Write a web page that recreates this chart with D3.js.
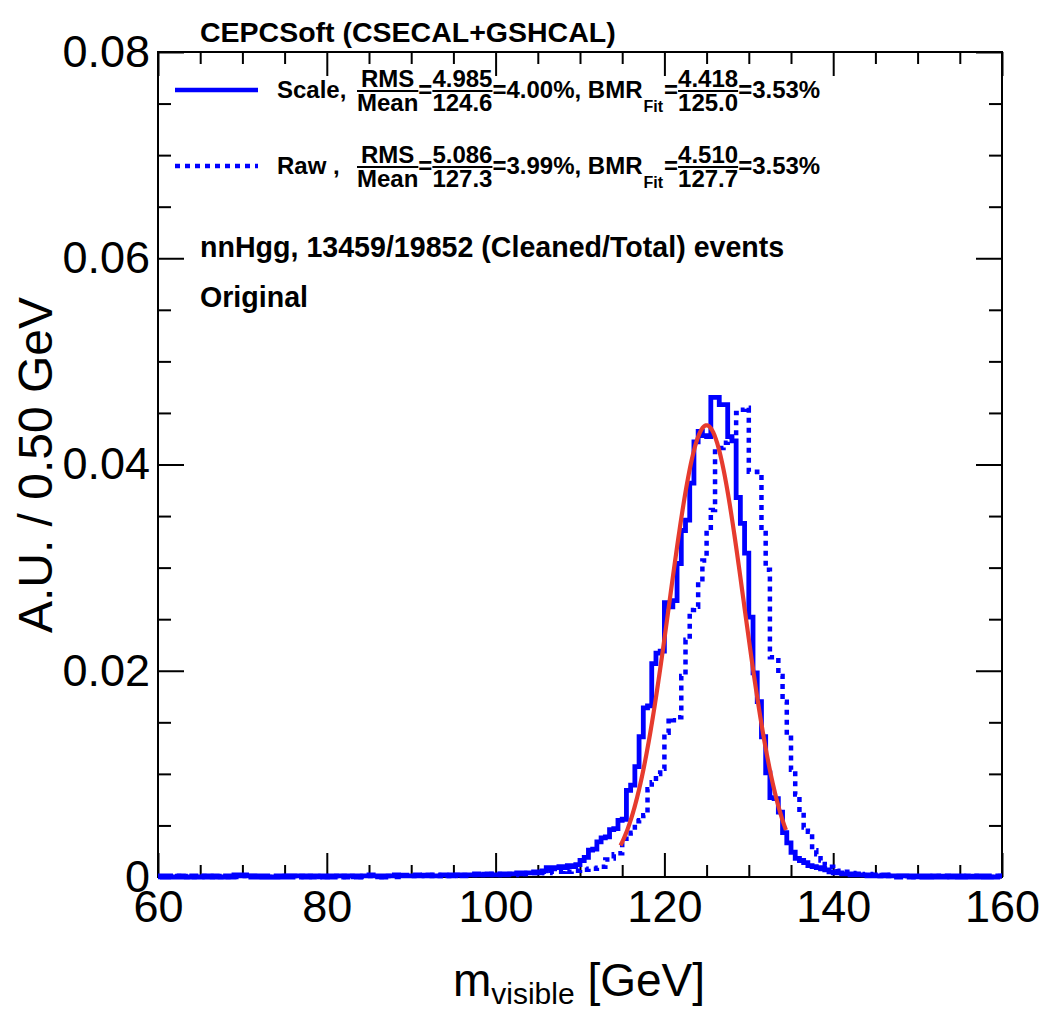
<!DOCTYPE html>
<html>
<head>
<meta charset="utf-8">
<script src="https://cdn.jsdelivr.net/npm/d3@7"></script>
<style>
  html, body { margin: 0; padding: 0; background: #ffffff; }
  svg { display: block; }
</style>
</head>
<body>
<svg id="chart" width="1047" height="1011"></svg>
<script>
// ---- histogram binning: 200 bins of 0.5 GeV from 60 to 160 GeV ----
const binLow = 60;
const binWidth = 0.5;

// "Scale" calibrated visible mass, A.U. per 0.5 GeV bin
const scaleValues = [
  // 60-70
  0.0001,0,0.0001,0,0,0.0001,0,0,0.0001,0, 0,0.0001,0,0.0001,0,0,0.0001,0,0.0002,0.0001,
  // 70-80
  0.0002,0.0001,0,0.0001,0,0.0001,0,0,0.0001,0, 0.0001,0,0.0001,0.0001,0,0.0001,0,0.0001,0.0001,0,
  // 80-90
  0.0001,0,0.0001,0.0001,0,0.0001,0.0001,0,0.0001,0.0001, 0.0002,0.0001,0.0001,0,0.0001,0.0001,0.0002,0.0001,0.0001,0.0001,
  // 90-100
  0.0001,0.0002,0.0001,0.0001,0.0002,0.0001,0.0001,0.0002,0.0002,0.0001, 0.0002,0.0002,0.0001,0.0002,0.0002,0.0003,0.0002,0.0002,0.0003,0.0002,
  // 100-110
  0.0002,0.0003,0.0002,0.0003,0.0003,0.0004,0.0003,0.0004,0.0004,0.0005, 0.0004,0.0006,0.0009,0.0008,0.0009,0.0010,0.0009,0.0011,0.0010,0.0012,
  // 110-120
  0.0016,0.0019,0.0026,0.0027,0.0034,0.0038,0.0039,0.0046,0.0047,0.0055, 0.0056,0.0084,0.0089,0.0107,0.0136,0.0164,0.0166,0.0207,0.0217,0.0219,
  // 120-130
  0.0266,0.0262,0.0268,0.0304,0.0336,0.0346,0.0382,0.0422,0.0432,0.0428, 0.0427,0.0465,0.0465,0.0458,0.0458,0.0427,0.0423,0.0368,0.0343,0.0314,
  // 130-140
  0.0252,0.0198,0.0170,0.0136,0.0101,0.0077,0.0076,0.0063,0.0043,0.0033, 0.0024,0.0018,0.0016,0.0014,0.0011,0.0010,0.0009,0.0008,0.0007,0.0005,
  // 140-150
  0.0004,0.0004,0.0003,0.0003,0.0002,0.0003,0.0002,0.0002,0.0001,0.0002, 0.0001,0.0001,0.0002,0.0001,0.0001,0,0.0001,0.0001,0,0.0001,
  // 150-160
  0.0001,0,0.0001,0,0.0001,0,0,0.0001,0,0.0001, 0,0.0001,0,0,0.0001,0,0.0001,0,0,0.0001
];

// "Raw" visible mass, A.U. per 0.5 GeV bin
const rawValues = [
  // 60-70
  0,0.0001,0,0,0.0001,0,0,0.0001,0,0, 0.0001,0,0,0.0001,0,0.0001,0,0,0.0001,0,
  // 70-80
  0.0001,0,0.0001,0,0,0.0001,0,0.0001,0,0, 0.0001,0,0.0001,0,0.0001,0,0.0001,0.0001,0,0.0001,
  // 80-90
  0,0.0001,0.0001,0,0.0001,0,0.0001,0.0001,0,0.0001, 0.0001,0.0001,0,0.0001,0.0001,0.0001,0,0.0001,0.0002,0.0001,
  // 90-100
  0.0001,0.0001,0.0002,0.0001,0.0001,0.0002,0.0001,0.0002,0.0001,0.0002, 0.0002,0.0001,0.0002,0.0002,0.0002,0.0002,0.0003,0.0002,0.0002,0.0003,
  // 100-110
  0.0002,0.0003,0.0003,0.0003,0.0002,0.0003,0.0004,0.0003,0.0004,0.0004, 0.0004,0.0005,0.0004,0.0005,0.0005,0.0005,0.0006,0.0005,0.0006,0.0006,
  // 110-120
  0.0007,0.0007,0.0008,0.0008,0.0009,0.0010,0.0017,0.0018,0.0022,0.0023, 0.0037,0.0040,0.0043,0.0054,0.0055,0.0060,0.0085,0.0092,0.0100,0.0105,
  // 120-130
  0.0140,0.0154,0.0152,0.0155,0.0195,0.0230,0.0259,0.0262,0.0286,0.0307, 0.0336,0.0356,0.0416,0.0416,0.0421,0.0424,0.0428,0.0450,0.0453,0.0455,
  // 130-140
  0.0393,0.0393,0.0390,0.0336,0.0298,0.0213,0.0213,0.0195,0.0170,0.0135, 0.0104,0.0080,0.0063,0.0048,0.0044,0.0026,0.0022,0.0016,0.0012,0.0010,
  // 140-150
  0.0008,0.0006,0.0005,0.0005,0.0004,0.0003,0.0003,0.0002,0.0003,0.0002, 0.0002,0.0001,0.0002,0.0001,0.0001,0.0001,0,0.0001,0.0001,0,
  // 150-160
  0.0001,0,0.0001,0,0,0.0001,0,0.0001,0,0, 0.0001,0,0,0.0001,0,0,0.0001,0,0,0.0001
];

// axis ticks and labels
const xMajorTicks = [60, 80, 100, 120, 140, 160];
const xMinorStep = 5;
const yMajorTicks = [0, 0.02, 0.04, 0.06, 0.08];
const yTickLabels = ["0", "0.02", "0.04", "0.06", "0.08"];
const yMinorStep = 0.005;

// legend entries
const legendLabels = ["Scale,", "Raw ,"];
const rmsValues = ["4.985", "5.086"];
const meanValues = ["124.6", "127.3"];
const rmsRatios = ["4.00%", "3.99%"];
const fitSigmaLabels = ["4.418", "4.510"];
const fitMeanLabels = ["125.0", "127.7"];
const bmrRatios = ["3.53%", "3.53%"];

// gaussian fit drawn on the "Scale" histogram
const fitMean = 125.0;
const fitSigma = 4.418;
const fitConstant = 0.0438;
const fitRange = [114.8, 134.4];

// ---- drawing ----
const W = 1047, H = 1011;
const plot = { left: 158, right: 1002, top: 52, bottom: 877 };
const FONT = "'Liberation Sans', Arial, Helvetica, sans-serif";
const BLUE = "#0000ff";
const RED = "#e63b2e";

const svg = d3.select("#chart");
svg.append("rect").attr("width", W).attr("height", H).attr("fill", "#ffffff");

const x = d3.scaleLinear().domain([60, 160]).range([plot.left, plot.right]);
const y = d3.scaleLinear().domain([0, 0.08]).range([plot.bottom, plot.top]);

const xMinor = d3.range(60, 160.001, xMinorStep).filter(v => !xMajorTicks.includes(v));
const yMinor = d3.range(0, 0.08001, yMinorStep).map(v => +v.toFixed(4))
  .filter(v => !yMajorTicks.some(t => Math.abs(t - v) < 1e-6));

function styleAxis(g) {
  g.select(".domain").remove();
  g.selectAll(".tick line").attr("stroke", "#000").attr("stroke-width", 2);
  g.selectAll(".tick text").attr("fill", "#000").attr("font-family", FONT).attr("font-size", 45);
}

// bottom axis
svg.append("g").attr("transform", `translate(0,${plot.bottom})`)
  .call(d3.axisBottom(x).tickValues(xMajorTicks).tickSizeInner(-24).tickSizeOuter(0)
    .tickPadding(13).tickFormat(d3.format("d")))
  .call(styleAxis);
svg.append("g").attr("transform", `translate(0,${plot.bottom})`)
  .call(d3.axisBottom(x).tickValues(xMinor).tickSizeInner(-12).tickSizeOuter(0).tickFormat(""))
  .call(styleAxis);
// top axis
svg.append("g").attr("transform", `translate(0,${plot.top})`)
  .call(d3.axisTop(x).tickValues(xMajorTicks).tickSizeInner(-24).tickSizeOuter(0).tickFormat(""))
  .call(styleAxis);
svg.append("g").attr("transform", `translate(0,${plot.top})`)
  .call(d3.axisTop(x).tickValues(xMinor).tickSizeInner(-12).tickSizeOuter(0).tickFormat(""))
  .call(styleAxis);
// left axis
svg.append("g").attr("transform", `translate(${plot.left},0)`)
  .call(d3.axisLeft(y).tickValues(yMajorTicks).tickSizeInner(-26).tickSizeOuter(0)
    .tickPadding(8).tickFormat((d, i) => yTickLabels[i]))
  .call(styleAxis);
svg.append("g").attr("transform", `translate(${plot.left},0)`)
  .call(d3.axisLeft(y).tickValues(yMinor).tickSizeInner(-13).tickSizeOuter(0).tickFormat(""))
  .call(styleAxis);
// right axis
svg.append("g").attr("transform", `translate(${plot.right},0)`)
  .call(d3.axisRight(y).tickValues(yMajorTicks).tickSizeInner(-26).tickSizeOuter(0).tickFormat(""))
  .call(styleAxis);
svg.append("g").attr("transform", `translate(${plot.right},0)`)
  .call(d3.axisRight(y).tickValues(yMinor).tickSizeInner(-13).tickSizeOuter(0).tickFormat(""))
  .call(styleAxis);

// frame
svg.append("rect")
  .attr("x", plot.left).attr("y", plot.top)
  .attr("width", plot.right - plot.left).attr("height", plot.bottom - plot.top)
  .attr("fill", "none").attr("stroke", "#000").attr("stroke-width", 2);

// step outline of a histogram
function histPoints(values) {
  const pts = values.map((v, i) => [binLow + i * binWidth, v]);
  pts.push([binLow + values.length * binWidth, values[values.length - 1]]);
  return pts;
}
const stepLine = d3.line().x(d => x(d[0])).y(d => y(d[1])).curve(d3.curveStepAfter);

svg.append("path").datum(histPoints(rawValues))
  .attr("d", stepLine).attr("fill", "none")
  .attr("stroke", BLUE).attr("stroke-width", 4.5)
  .attr("stroke-dasharray", "5 5");

svg.append("path").datum(histPoints(scaleValues))
  .attr("d", stepLine).attr("fill", "none")
  .attr("stroke", BLUE).attr("stroke-width", 4.8);

// fitted gaussian
const fitPts = d3.range(0, 201).map(k => {
  const m = fitRange[0] + (fitRange[1] - fitRange[0]) * k / 200;
  return [m, fitConstant * Math.exp(-0.5 * Math.pow((m - fitMean) / fitSigma, 2))];
});
svg.append("path").datum(fitPts)
  .attr("d", d3.line().x(d => x(d[0])).y(d => y(d[1])).curve(d3.curveLinear))
  .attr("fill", "none").attr("stroke", RED).attr("stroke-width", 4.2)
  .attr("stroke-linejoin", "round");

// ---- texts ----
function txt(parent, str, px, py, size, opts = {}) {
  return parent.append("text")
    .attr("x", px).attr("y", py)
    .attr("font-family", FONT)
    .attr("font-size", size)
    .attr("font-weight", opts.weight || "normal")
    .attr("text-anchor", opts.anchor || "start")
    .attr("fill", "#000")
    .text(str);
}

// header and info lines
txt(svg, "CEPCSoft (CSECAL+GSHCAL)", 200, 42, 28.5, { weight: "bold" });
txt(svg, "nnHgg, 13459/19852 (Cleaned/Total) events", 200, 257, 28.6, { weight: "bold" });
txt(svg, "Original", 200, 307, 28.6, { weight: "bold" });

// legend rows with fractions
const LEG = 24;
function fraction(g, num, den, x0, yLine) {
  const a = txt(g, num, 0, yLine - 3, LEG, { weight: "bold", anchor: "middle" });
  const b = txt(g, den, 0, yLine + 21, LEG, { weight: "bold", anchor: "middle" });
  const w = Math.max(a.node().getComputedTextLength(), b.node().getComputedTextLength());
  a.attr("x", x0 + w / 2);
  b.attr("x", x0 + w / 2);
  g.append("line").attr("x1", x0).attr("x2", x0 + w)
    .attr("y1", yLine + 1).attr("y2", yLine + 1)
    .attr("stroke", "#000").attr("stroke-width", 2);
  return x0 + w;
}
function inline(g, str, x0, yBase, size, weight) {
  const t = txt(g, str, x0, yBase, size, { weight: weight || "bold" });
  return x0 + t.node().getComputedTextLength();
}

const legendY = [90, 166];
legendLabels.forEach((label, i) => {
  const g = svg.append("g");
  const yl = legendY[i];
  const line = g.append("line").attr("x1", 175).attr("x2", 258)
    .attr("y1", yl).attr("y2", yl)
    .attr("stroke", BLUE).attr("stroke-width", 4.5);
  if (i === 1) line.attr("stroke-dasharray", "5 5");
  const base = yl + 8;
  txt(g, label, 277, base, LEG, { weight: "bold" });
  let cx = 357;
  cx = fraction(g, "RMS", "Mean", cx, yl);
  cx = inline(g, "=", cx, base, LEG);
  cx = fraction(g, rmsValues[i], meanValues[i], cx, yl);
  cx = inline(g, "=" + rmsRatios[i] + ", BMR", cx, base, LEG);
  cx = inline(g, "Fit", cx + 1, yl + 22, 16);
  cx = inline(g, "=", cx + 1, base, LEG);
  cx = fraction(g, fitSigmaLabels[i], fitMeanLabels[i], cx, yl);
  inline(g, "=" + bmrRatios[i], cx, base, LEG);
});

// axis titles
svg.append("text")
  .attr("transform", "translate(52,465) rotate(-90)")
  .attr("text-anchor", "middle")
  .attr("font-family", FONT).attr("font-size", 48).attr("fill", "#000")
  .text("A.U. / 0.50 GeV");

const xTitle = svg.append("text")
  .attr("x", 579).attr("y", 996)
  .attr("text-anchor", "middle")
  .attr("font-family", FONT).attr("font-size", 46).attr("fill", "#000");
xTitle.append("tspan").text("m");
xTitle.append("tspan").attr("font-size", 30).attr("dy", 8).text("visible");
xTitle.append("tspan").attr("dy", -8).text(" [GeV]");
</script>
</body>
</html>
